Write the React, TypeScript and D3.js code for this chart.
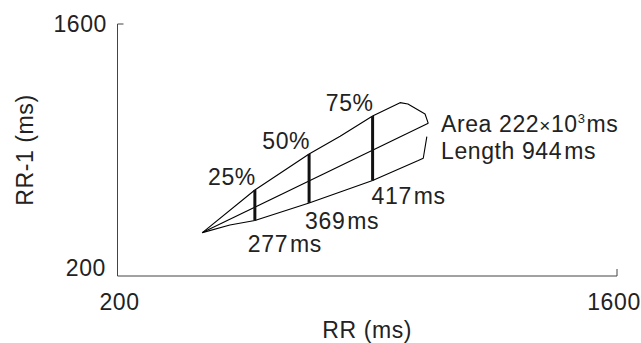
import * as d3 from 'd3';

// Poincaré plot outline (RR, RR-1) in ms
const upperEdge: [number, number][] = [
  [438, 441], [585, 678], [737, 878], [824, 976], [915, 1089],
  [992, 1163], [1014, 1156], [1062, 1100], [1071, 1048],
];
const lowerEdge: [number, number][] = [
  [1067, 974], [1057, 854], [1043, 841], [915, 730],
  [737, 606], [585, 508], [515, 483], [438, 441],
];
const axisLine: [number, number][] = [[438, 441], [1071, 1048]];

// percentile bars: RR position, low and high RR-1
const barRR = [585, 737, 915];
const barLow = [508, 606, 730];
const barHigh = [678, 878, 1089];
const barPct = ['25%', '50%', '75%'];
const barWidth = ['277', '369', '417'];

const xTicks = [200, 1600];
const yTicks = [200, 1600];
const areaValue = '222';
const lengthValue = '944';

// label offsets from bar bottom (px)
const widthLabelOffset: [number, number][] = [[-7, 31], [-4, 26], [-1, 23]];
const xTickShift = [2, -3];

const W = 641;
const H = 343;
const font = '"Liberation Sans", Arial, sans-serif';
const fs = 23;
const txt = '#222';

const App = () => {
  const x = d3.scaleLinear().domain([200, 1600]).range([117.5, 617]);
  const y = d3.scaleLinear().domain([200, 1600]).range([276, 24]);
  const line = d3.line<[number, number]>().x(d => x(d[0])).y(d => y(d[1]));

  const outline = lowerEdge.concat(upperEdge.slice(1));

  return (
    <svg width={W} height={H} style={{ position: 'absolute', left: 0, top: 0, letterSpacing: '0.6px' }}
      fontFamily={font} fontSize={fs} fill={txt}>
      {/* axes */}
      <path d={`M${x(200)},${y(1600)}H${x(200) + 6}`} stroke="#444" fill="none" />
      <path d={`M${x(200)},${y(1600)}V${y(200)}H${x(1600)}V${y(200) - 7}`} stroke="#444" fill="none" />
      <text x={107} y={y(yTicks[1])} dy="0.35em" textAnchor="end">{yTicks[1]}</text>
      <text x={106} y={y(yTicks[0])} textAnchor="end">{yTicks[0]}</text>
      {xTicks.map((t, i) => (
        <text key={t} x={x(t) + xTickShift[i]} y={310} textAnchor="middle">{t}</text>
      ))}
      <text x={(x(200) + x(1600)) / 2} y={338} textAnchor="middle">RR (ms)</text>
      <text transform={`translate(33,${(y(200) + y(1600)) / 2}) rotate(-90)`} textAnchor="middle">RR-1 (ms)</text>

      {/* outline and mid line */}
      <path d={line(outline) || ''} stroke="#000" strokeWidth={1.1} fill="none" strokeLinejoin="round" />
      <path d={line(axisLine) || ''} stroke="#000" strokeWidth={1.1} fill="none" />

      {barRR.map((r, i) => (
        <g key={r}>
          <line x1={x(r)} x2={x(r)} y1={y(barLow[i])} y2={y(barHigh[i])} stroke="#111" strokeWidth={3} />
          <text x={x(r) + 1} y={y(barHigh[i]) - 5} textAnchor="end">{barPct[i]}</text>
          <text x={x(r) + widthLabelOffset[i][0]} y={y(barLow[i]) + widthLabelOffset[i][1]}>
            {barWidth[i]}<tspan dx={2}>ms</tspan>
          </text>
        </g>
      ))}

      <text x={441} y={131.5}>
        Area {areaValue}<tspan fontSize={19}>×</tspan>10<tspan fontSize={13} dy={-9}>3</tspan><tspan dy={9} dx={1}>ms</tspan>
      </text>
      <text x={441} y={159}>
        Length {lengthValue}<tspan dx={2}>ms</tspan>
      </text>
    </svg>
  );
};

export default App;
